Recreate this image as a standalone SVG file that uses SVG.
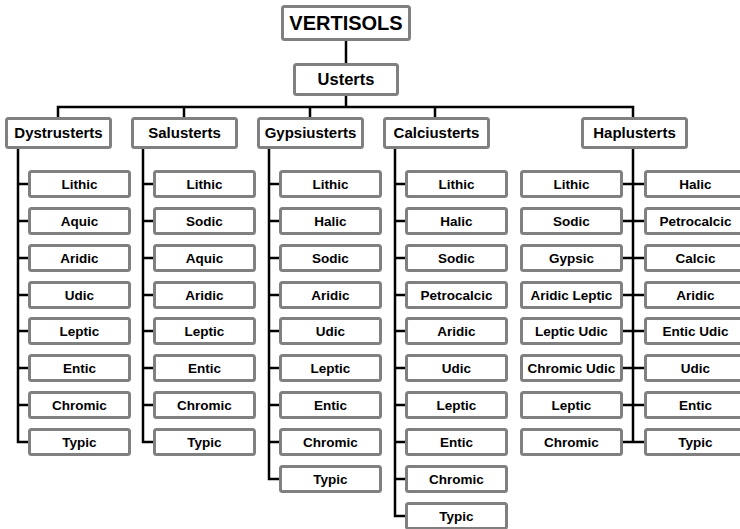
<svg xmlns="http://www.w3.org/2000/svg" width="740" height="529" viewBox="0 0 740 529">
<style>
.b{fill:#fff;stroke:#808080;stroke-width:3}
.t{font-family:"Liberation Sans",Arial,sans-serif;font-weight:bold;text-anchor:middle;fill:#000}
.c{font-size:13.5px}
.m{font-size:15px}
.l{fill:none;stroke:#000;stroke-width:2.5}
</style>
<rect width="740" height="529" fill="#fff"/>
<g id="connectors" class="l">
<path d="M346 41V64"/>
<path d="M346 96V107"/>
<path d="M58 117V107H633V117"/>
<path d="M184 107V117M310 107V117M435 107V117"/>
<path d="M18 149V442H29M18 184H29M18 221H29M18 258H29M18 295H29M18 331H29M18 368H29M18 405H29"/>
<path d="M143 149V442H154M143 184H154M143 221H154M143 258H154M143 295H154M143 331H154M143 368H154M143 405H154"/>
<path d="M269 149V479H280M269 184H280M269 221H280M269 258H280M269 295H280M269 331H280M269 368H280M269 405H280M269 442H280"/>
<path d="M395 149V516H406M395 184H406M395 221H406M395 258H406M395 295H406M395 331H406M395 368H406M395 405H406M395 442H406M395 479H406"/>
<path d="M633 149V442M622 184H645M622 221H645M622 258H645M622 295H645M622 331H645M622 368H645M622 405H645M622 442H645"/>
</g>
<g id="vertisols"><rect class="b" x="282.5" y="6.5" width="127" height="33" rx="2"/><text class="t" x="346" y="30" font-size="20">VERTISOLS</text></g>
<g id="usterts"><rect class="b" x="294.5" y="64.5" width="103" height="30" rx="2"/><text class="t" x="346" y="85" font-size="16.5">Usterts</text></g>
<g id="dystrusterts"><rect class="b" x="6.5" y="118.5" width="104" height="29" rx="2"/><text class="t m" x="58.5" y="138">Dystrusterts</text></g>
<g id="salusterts"><rect class="b" x="132.5" y="118.5" width="104" height="29" rx="2"/><text class="t m" x="184.5" y="138">Salusterts</text></g>
<g id="gypsiusterts"><rect class="b" x="258.5" y="118.5" width="104" height="29" rx="2"/><text class="t m" x="310.5" y="138">Gypsiusterts</text></g>
<g id="calciusterts"><rect class="b" x="384.5" y="118.5" width="104" height="29" rx="2"/><text class="t m" x="436.5" y="138">Calciusterts</text></g>
<g id="haplusterts"><rect class="b" x="582.5" y="118.5" width="104" height="29" rx="2"/><text class="t m" x="634.5" y="138">Haplusterts</text></g>

<g id="d-lithic"><rect class="b" x="29.5" y="171.5" width="100" height="25" rx="2"/><text class="t c" x="79.5" y="189">Lithic</text></g>
<g id="d-aquic"><rect class="b" x="29.5" y="208.5" width="100" height="25" rx="2"/><text class="t c" x="79.5" y="226">Aquic</text></g>
<g id="d-aridic"><rect class="b" x="29.5" y="245.5" width="100" height="25" rx="2"/><text class="t c" x="79.5" y="263">Aridic</text></g>
<g id="d-udic"><rect class="b" x="29.5" y="282.5" width="100" height="25" rx="2"/><text class="t c" x="79.5" y="300">Udic</text></g>
<g id="d-leptic"><rect class="b" x="29.5" y="318.5" width="100" height="25" rx="2"/><text class="t c" x="79.5" y="336">Leptic</text></g>
<g id="d-entic"><rect class="b" x="29.5" y="355.5" width="100" height="25" rx="2"/><text class="t c" x="79.5" y="373">Entic</text></g>
<g id="d-chromic"><rect class="b" x="29.5" y="392.5" width="100" height="25" rx="2"/><text class="t c" x="79.5" y="410">Chromic</text></g>
<g id="d-typic"><rect class="b" x="29.5" y="429.5" width="100" height="25" rx="2"/><text class="t c" x="79.5" y="447">Typic</text></g>

<g id="s-lithic"><rect class="b" x="154.5" y="171.5" width="100" height="25" rx="2"/><text class="t c" x="204.5" y="189">Lithic</text></g>
<g id="s-sodic"><rect class="b" x="154.5" y="208.5" width="100" height="25" rx="2"/><text class="t c" x="204.5" y="226">Sodic</text></g>
<g id="s-aquic"><rect class="b" x="154.5" y="245.5" width="100" height="25" rx="2"/><text class="t c" x="204.5" y="263">Aquic</text></g>
<g id="s-aridic"><rect class="b" x="154.5" y="282.5" width="100" height="25" rx="2"/><text class="t c" x="204.5" y="300">Aridic</text></g>
<g id="s-leptic"><rect class="b" x="154.5" y="318.5" width="100" height="25" rx="2"/><text class="t c" x="204.5" y="336">Leptic</text></g>
<g id="s-entic"><rect class="b" x="154.5" y="355.5" width="100" height="25" rx="2"/><text class="t c" x="204.5" y="373">Entic</text></g>
<g id="s-chromic"><rect class="b" x="154.5" y="392.5" width="100" height="25" rx="2"/><text class="t c" x="204.5" y="410">Chromic</text></g>
<g id="s-typic"><rect class="b" x="154.5" y="429.5" width="100" height="25" rx="2"/><text class="t c" x="204.5" y="447">Typic</text></g>

<g id="g-lithic"><rect class="b" x="280.5" y="171.5" width="100" height="25" rx="2"/><text class="t c" x="330.5" y="189">Lithic</text></g>
<g id="g-halic"><rect class="b" x="280.5" y="208.5" width="100" height="25" rx="2"/><text class="t c" x="330.5" y="226">Halic</text></g>
<g id="g-sodic"><rect class="b" x="280.5" y="245.5" width="100" height="25" rx="2"/><text class="t c" x="330.5" y="263">Sodic</text></g>
<g id="g-aridic"><rect class="b" x="280.5" y="282.5" width="100" height="25" rx="2"/><text class="t c" x="330.5" y="300">Aridic</text></g>
<g id="g-udic"><rect class="b" x="280.5" y="318.5" width="100" height="25" rx="2"/><text class="t c" x="330.5" y="336">Udic</text></g>
<g id="g-leptic"><rect class="b" x="280.5" y="355.5" width="100" height="25" rx="2"/><text class="t c" x="330.5" y="373">Leptic</text></g>
<g id="g-entic"><rect class="b" x="280.5" y="392.5" width="100" height="25" rx="2"/><text class="t c" x="330.5" y="410">Entic</text></g>
<g id="g-chromic"><rect class="b" x="280.5" y="429.5" width="100" height="25" rx="2"/><text class="t c" x="330.5" y="447">Chromic</text></g>
<g id="g-typic"><rect class="b" x="280.5" y="466.5" width="100" height="25" rx="2"/><text class="t c" x="330.5" y="484">Typic</text></g>

<g id="c-lithic"><rect class="b" x="406.5" y="171.5" width="100" height="25" rx="2"/><text class="t c" x="456.5" y="189">Lithic</text></g>
<g id="c-halic"><rect class="b" x="406.5" y="208.5" width="100" height="25" rx="2"/><text class="t c" x="456.5" y="226">Halic</text></g>
<g id="c-sodic"><rect class="b" x="406.5" y="245.5" width="100" height="25" rx="2"/><text class="t c" x="456.5" y="263">Sodic</text></g>
<g id="c-petrocalcic"><rect class="b" x="406.5" y="282.5" width="100" height="25" rx="2"/><text class="t c" x="456.5" y="300">Petrocalcic</text></g>
<g id="c-aridic"><rect class="b" x="406.5" y="318.5" width="100" height="25" rx="2"/><text class="t c" x="456.5" y="336">Aridic</text></g>
<g id="c-udic"><rect class="b" x="406.5" y="355.5" width="100" height="25" rx="2"/><text class="t c" x="456.5" y="373">Udic</text></g>
<g id="c-leptic"><rect class="b" x="406.5" y="392.5" width="100" height="25" rx="2"/><text class="t c" x="456.5" y="410">Leptic</text></g>
<g id="c-entic"><rect class="b" x="406.5" y="429.5" width="100" height="25" rx="2"/><text class="t c" x="456.5" y="447">Entic</text></g>
<g id="c-chromic"><rect class="b" x="406.5" y="466.5" width="100" height="25" rx="2"/><text class="t c" x="456.5" y="484">Chromic</text></g>
<g id="c-typic"><rect class="b" x="406.5" y="503.5" width="100" height="25" rx="2"/><text class="t c" x="456.5" y="521">Typic</text></g>

<g id="hl-lithic"><rect class="b" x="521.5" y="171.5" width="100" height="25" rx="2"/><text class="t c" x="571.5" y="189">Lithic</text></g>
<g id="hl-sodic"><rect class="b" x="521.5" y="208.5" width="100" height="25" rx="2"/><text class="t c" x="571.5" y="226">Sodic</text></g>
<g id="hl-gypsic"><rect class="b" x="521.5" y="245.5" width="100" height="25" rx="2"/><text class="t c" x="571.5" y="263">Gypsic</text></g>
<g id="hl-aridic-leptic"><rect class="b" x="521.5" y="282.5" width="100" height="25" rx="2"/><text class="t c" x="571.5" y="300">Aridic Leptic</text></g>
<g id="hl-leptic-udic"><rect class="b" x="521.5" y="318.5" width="100" height="25" rx="2"/><text class="t c" x="571.5" y="336">Leptic Udic</text></g>
<g id="hl-chromic-udic"><rect class="b" x="521.5" y="355.5" width="100" height="25" rx="2"/><text class="t c" x="571.5" y="373">Chromic Udic</text></g>
<g id="hl-leptic"><rect class="b" x="521.5" y="392.5" width="100" height="25" rx="2"/><text class="t c" x="571.5" y="410">Leptic</text></g>
<g id="hl-chromic"><rect class="b" x="521.5" y="429.5" width="100" height="25" rx="2"/><text class="t c" x="571.5" y="447">Chromic</text></g>

<g id="hr-halic"><rect class="b" x="645.5" y="171.5" width="100" height="25" rx="2"/><text class="t c" x="695.5" y="189">Halic</text></g>
<g id="hr-petrocalcic"><rect class="b" x="645.5" y="208.5" width="100" height="25" rx="2"/><text class="t c" x="695.5" y="226">Petrocalcic</text></g>
<g id="hr-calcic"><rect class="b" x="645.5" y="245.5" width="100" height="25" rx="2"/><text class="t c" x="695.5" y="263">Calcic</text></g>
<g id="hr-aridic"><rect class="b" x="645.5" y="282.5" width="100" height="25" rx="2"/><text class="t c" x="695.5" y="300">Aridic</text></g>
<g id="hr-entic-udic"><rect class="b" x="645.5" y="318.5" width="100" height="25" rx="2"/><text class="t c" x="695.5" y="336">Entic Udic</text></g>
<g id="hr-udic"><rect class="b" x="645.5" y="355.5" width="100" height="25" rx="2"/><text class="t c" x="695.5" y="373">Udic</text></g>
<g id="hr-entic"><rect class="b" x="645.5" y="392.5" width="100" height="25" rx="2"/><text class="t c" x="695.5" y="410">Entic</text></g>
<g id="hr-typic"><rect class="b" x="645.5" y="429.5" width="100" height="25" rx="2"/><text class="t c" x="695.5" y="447">Typic</text></g>
</svg>
